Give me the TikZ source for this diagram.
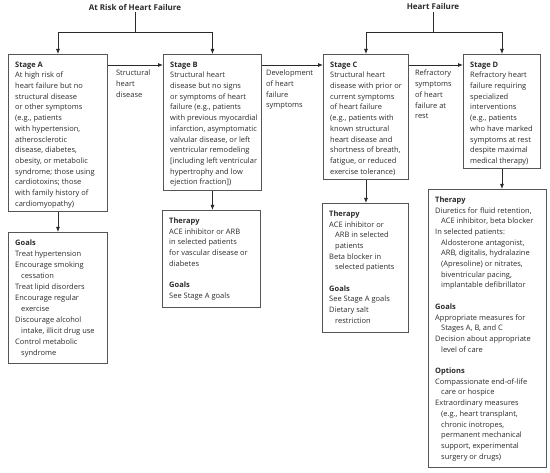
\documentclass[tikz,border=0pt]{standalone}
\usepackage{fontspec}
\setmainfont{Open Sans}
\usetikzlibrary{arrows.meta}
\definecolor{boxc}{HTML}{555555}
\definecolor{txtc}{HTML}{2A2A2A}
\newcommand\ind{\hspace*{6pt}}
\newcommand\blank{\\[10.7pt]}
\begin{document}
\begin{tikzpicture}[x=1pt,y=-1pt,
  box/.style={draw=boxc, line width=0.9pt, anchor=north west, inner sep=0pt},
  txt/.style={anchor=north west, inner sep=0pt, align=left, font=\fontsize{7.5}{10.7}\selectfont, text=txtc},
  ttl/.style={font=\fontsize{8}{10}\selectfont\bfseries, text=txtc, inner sep=2pt},
  arr/.style={draw=txtc, line width=0.8pt, -{Latex[length=5pt,width=4pt]}},
  ln/.style={draw=txtc, line width=0.8pt}]
\useasboundingbox (0,0) rectangle (550,473);

% titles
\node[ttl] (t1) at (135,7) {At Risk of Heart Failure};
\node[ttl] (t2) at (433,7) {Heart Failure};
\coordinate (j1) at (135,32);
\coordinate (j2) at (433,32);

% stage boxes
\node[box, minimum width=99pt, minimum height=157pt] (A) at (8,54) {};
\node[box, minimum width=98pt, minimum height=136pt] (B) at (163,54) {};
\node[box, minimum width=85pt, minimum height=125pt] (C) at (323,54) {};
\node[box, minimum width=77pt, minimum height=114pt] (D) at (463,54) {};

% lower boxes
\node[box, minimum width=99pt, minimum height=131pt] (GA) at (8,232) {};
\node[box, minimum width=98pt, minimum height=97pt] (TB) at (162,210) {};
\node[box, minimum width=86pt, minimum height=129pt] (TC) at (322,203) {};
\node[box, minimum width=118pt, minimum height=278pt] (TD) at (428,189) {};

% texts
\node[txt] (tA) at ([xshift=7pt,yshift=-7.5pt]A.north west) {\textbf{Stage A}\\
At high risk of\\
heart failure but no\\
structural disease\\
or other symptoms\\
(e.g., patients\\
with hypertension,\\
atherosclerotic\\
disease, diabetes,\\
obesity, or metabolic\\
syndrome; those using\\
cardiotoxins; those\\
with family history of\\
cardiomyopathy)};

\node[txt] (tB) at ([xshift=7pt,yshift=-7.5pt]B.north west) {\textbf{Stage B}\\
Structural heart\\
disease but no signs\\
or symptoms of heart\\
failure (e.g., patients\\
with previous myocardial\\
infarction, asymptomatic\\
valvular disease, or left\\
ventricular remodeling\\
{[}including left ventricular\\
hypertrophy and low\\
ejection fraction{]})};

\node[txt] (tC) at ([xshift=7pt,yshift=-7.5pt]C.north west) {\textbf{Stage C}\\
Structural heart\\
disease with prior or\\
current symptoms\\
of heart failure\\
(e.g., patients with\\
known structural\\
heart disease and\\
shortness of breath,\\
fatigue, or reduced\\
exercise tolerance)};

\node[txt] (tD) at ([xshift=7pt,yshift=-7.5pt]D.north west) {\textbf{Stage D}\\
Refractory heart\\
failure requiring\\
specialized\\
interventions\\
(e.g., patients\\
who have marked\\
symptoms at rest\\
despite maximal\\
medical therapy)};

\node[txt] (tGA) at ([xshift=7pt,yshift=-7.5pt]GA.north west) {\textbf{Goals}\\
Treat hypertension\\[0.6pt]
Encourage smoking\\
\ind cessation\\[0.6pt]
Treat lipid disorders\\[0.6pt]
Encourage regular\\
\ind exercise\\[0.6pt]
Discourage alcohol\\
\ind intake, illicit drug use\\[0.6pt]
Control metabolic\\
\ind syndrome};

\node[txt] (tTB) at ([xshift=7pt,yshift=-7.5pt]TB.north west) {\textbf{Therapy}\\
ACE inhibitor or ARB\\
in selected patients\\
for vascular disease or\\
diabetes\blank
\textbf{Goals}\\
See Stage A goals};

\node[txt] (tTC) at ([xshift=7pt,yshift=-7.5pt]TC.north west) {\textbf{Therapy}\\
ACE inhibitor or\\
\ind ARB in selected\\
\ind patients\\
Beta blocker in\\
\ind selected patients\blank
\textbf{Goals}\\
See Stage A goals\\
Dietary salt\\
\ind restriction};

\node[txt] (tTD) at ([xshift=7pt,yshift=-7.5pt]TD.north west) {\textbf{Therapy}\\
Diuretics for fluid retention,\\
\ind ACE inhibitor, beta blocker\\
In selected patients:\\
\ind Aldosterone antagonist,\\
\ind ARB, digitalis, hydralazine\\
\ind (Apresoline) or nitrates,\\
\ind biventricular pacing,\\
\ind implantable defibrillator\blank
\textbf{Goals}\\
Appropriate measures for\\
\ind Stages A, B, and C\\
Decision about appropriate\\
\ind level of care\blank
\textbf{Options}\\
Compassionate end-of-life\\
\ind care or hospice\\
Extraordinary measures\\
\ind (e.g., heart transplant,\\
\ind chronic inotropes,\\
\ind permanent mechanical\\
\ind support, experimental\\
\ind surgery or drugs)};

% top connectors
\draw[ln] (t1.south) -- (j1);
\draw[arr] (j1) -| (A.north);
\draw[arr] (j1) -| (B.north);
\draw[ln] (t2.south) -- (j2);
\draw[arr] (j2) -| (C.north);
\draw[arr] (j2) -| (D.north);

% horizontal transitions
\draw[arr] ([yshift=-11pt]A.north east) -- ([yshift=-11pt]B.north west);
\draw[arr] ([yshift=-11pt]B.north east) -- ([yshift=-11pt]C.north west);
\draw[arr] ([yshift=-11pt]C.north east) -- ([yshift=-11pt]D.north west);

\node[txt] (lAB) at ([xshift=8pt,yshift=-16pt]A.north east) {Structural\\heart\\disease};
\node[txt] (lBC) at ([xshift=4pt,yshift=-16pt]B.north east) {Development\\of heart\\failure\\symptoms};
\node[txt] (lCD) at ([xshift=6pt,yshift=-16pt]C.north east) {Refractory\\symptoms\\of heart\\failure at\\rest};

% vertical arrows
\draw[arr] (A.south) -- (GA.north);
\draw[arr] (B.south) -- (B.south |- TB.north);
\draw[arr] (C.south) -- (C.south |- TC.north);
\draw[arr] (D.south) -- (D.south |- TD.north);
\end{tikzpicture}
\end{document}
